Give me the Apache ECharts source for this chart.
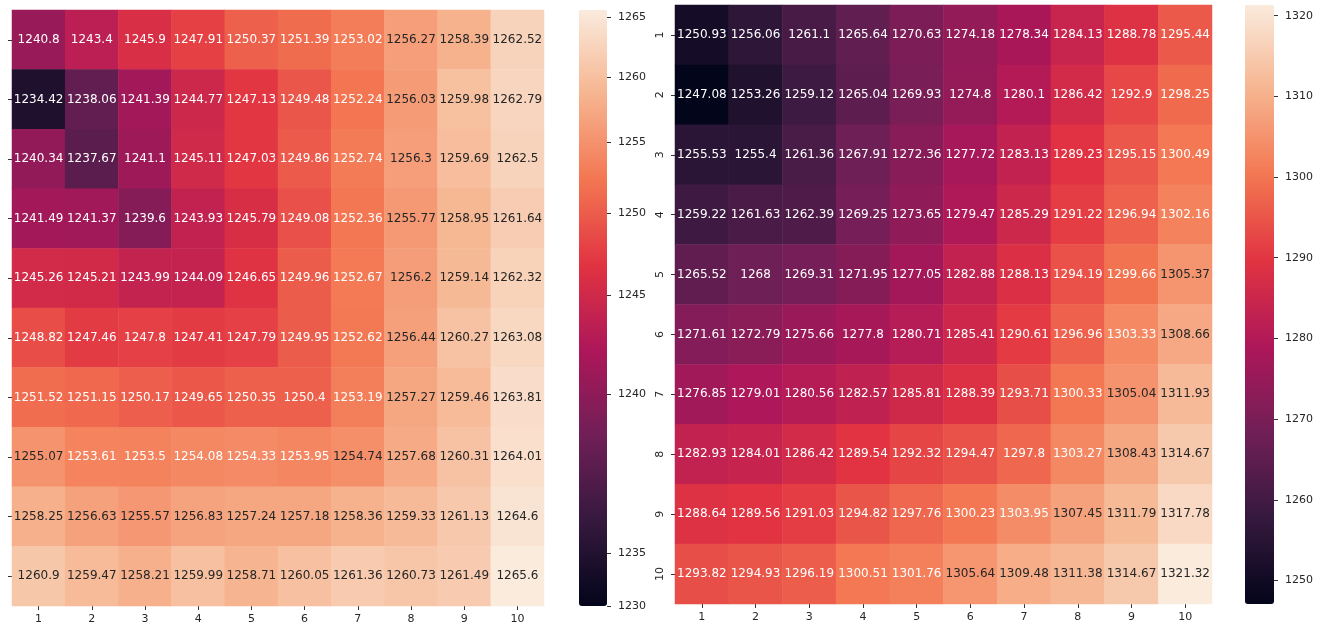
<!DOCTYPE html>
<html>
<head>
<meta charset="utf-8">
<title>Heatmaps</title>
<script src="https://cdn.jsdelivr.net/npm/echarts@6/dist/echarts.min.js"></script>
<style>
  html, body { margin: 0; padding: 0; background: #ffffff; }
  #chart { width: 1325px; height: 628px; }
</style>
</head>
<body>
<div id="chart"></div>
<script>
// Axis categories (rows top to bottom, columns left to right)
const rowLabels = ['1', '2', '3', '4', '5', '6', '7', '8', '9', '10'];
const colLabels = ['1', '2', '3', '4', '5', '6', '7', '8', '9', '10'];

// Left grid of values, one array per row
const leftValues = [
  [1240.8, 1243.4, 1245.9, 1247.91, 1250.37, 1251.39, 1253.02, 1256.27, 1258.39, 1262.52],
  [1234.42, 1238.06, 1241.39, 1244.77, 1247.13, 1249.48, 1252.24, 1256.03, 1259.98, 1262.79],
  [1240.34, 1237.67, 1241.1, 1245.11, 1247.03, 1249.86, 1252.74, 1256.3, 1259.69, 1262.5],
  [1241.49, 1241.37, 1239.6, 1243.93, 1245.79, 1249.08, 1252.36, 1255.77, 1258.95, 1261.64],
  [1245.26, 1245.21, 1243.99, 1244.09, 1246.65, 1249.96, 1252.67, 1256.2, 1259.14, 1262.32],
  [1248.82, 1247.46, 1247.8, 1247.41, 1247.79, 1249.95, 1252.62, 1256.44, 1260.27, 1263.08],
  [1251.52, 1251.15, 1250.17, 1249.65, 1250.35, 1250.4, 1253.19, 1257.27, 1259.46, 1263.81],
  [1255.07, 1253.61, 1253.5, 1254.08, 1254.33, 1253.95, 1254.74, 1257.68, 1260.31, 1264.01],
  [1258.25, 1256.63, 1255.57, 1256.83, 1257.24, 1257.18, 1258.36, 1259.33, 1261.13, 1264.6],
  [1260.9, 1259.47, 1258.21, 1259.99, 1258.71, 1260.05, 1261.36, 1260.73, 1261.49, 1265.6]
];

// Right grid of values, one array per row
const rightValues = [
  [1250.93, 1256.06, 1261.1, 1265.64, 1270.63, 1274.18, 1278.34, 1284.13, 1288.78, 1295.44],
  [1247.08, 1253.26, 1259.12, 1265.04, 1269.93, 1274.8, 1280.1, 1286.42, 1292.9, 1298.25],
  [1255.53, 1255.4, 1261.36, 1267.91, 1272.36, 1277.72, 1283.13, 1289.23, 1295.15, 1300.49],
  [1259.22, 1261.63, 1262.39, 1269.25, 1273.65, 1279.47, 1285.29, 1291.22, 1296.94, 1302.16],
  [1265.52, 1268, 1269.31, 1271.95, 1277.05, 1282.88, 1288.13, 1294.19, 1299.66, 1305.37],
  [1271.61, 1272.79, 1275.66, 1277.8, 1280.71, 1285.41, 1290.61, 1296.96, 1303.33, 1308.66],
  [1276.85, 1279.01, 1280.56, 1282.57, 1285.81, 1288.39, 1293.71, 1300.33, 1305.04, 1311.93],
  [1282.93, 1284.01, 1286.42, 1289.54, 1292.32, 1294.47, 1297.8, 1303.27, 1308.43, 1314.67],
  [1288.64, 1289.56, 1291.03, 1294.82, 1297.76, 1300.23, 1303.95, 1307.45, 1311.79, 1317.78],
  [1293.82, 1294.93, 1296.19, 1300.51, 1301.76, 1305.64, 1309.48, 1311.38, 1314.67, 1321.32]
];

// Colour bar tick labels
const leftBarTicks = [1230, 1235, 1240, 1245, 1250, 1255, 1260, 1265];
const rightBarTicks = [1250, 1260, 1270, 1280, 1290, 1300, 1310, 1320];

// ---- colour scale -------------------------------------------------------
// "rocket" colormap, evenly spaced stops from dark to light
const ROCKET = ['#03051a', '#35193e', '#701f57', '#ad1759', '#e13342', '#f37651', '#f6b48f', '#faebdd'];
// normalised level above which annotations switch to dark text
const DARK_TEXT_FROM = 0.7665;
const TEXT_DARK = '#262626';
const TEXT_FONT = 'DejaVu Sans, Liberation Sans, sans-serif';

const flat = a => a.reduce((acc, r) => acc.concat(r), []);
const leftMax = Math.max(...flat(leftValues));
const rightMin = Math.min(...flat(rightValues));
const rightMax = Math.max(...flat(rightValues));

// piecewise-linear normalisation: value -> position along the colour bar (0..1)
function makeNorm(vals, pos) {
  const fwd = v => {
    if (v <= vals[0]) return pos[0];
    for (let i = 1; i < vals.length; i++) {
      if (v <= vals[i]) {
        return pos[i - 1] + (v - vals[i - 1]) / (vals[i] - vals[i - 1]) * (pos[i] - pos[i - 1]);
      }
    }
    return pos[pos.length - 1];
  };
  const inv = p => {
    if (p <= pos[0]) return vals[0];
    for (let i = 1; i < pos.length; i++) {
      if (p <= pos[i]) {
        return vals[i - 1] + (p - pos[i - 1]) / (pos[i] - pos[i - 1]) * (vals[i] - vals[i - 1]);
      }
    }
    return vals[vals.length - 1];
  };
  return { fwd, inv };
}

// left bar uses a compressed (non-uniform) scale, right bar is linear
const leftNorm = makeNorm(
  leftBarTicks.concat([leftMax]),
  [0, 0.0889, 0.3557, 0.5218, 0.6594, 0.7785, 0.8876, 0.9883, 1]
);
const rightNorm = makeNorm([rightMin, rightMax], [0, 1]);

// each cell: [column, row, value, colour-bar position]
function cells(values, norm) {
  const out = [];
  values.forEach((row, r) => {
    row.forEach((v, c) => out.push([c, r, v, norm.fwd(v)]));
  });
  return out;
}

// ---- layout -------------------------------------------------------------
const tickStyle = { show: true, length: 4, lineStyle: { color: '#333333', width: 1 } };
const tickLabel = { color: '#262626', fontSize: 11, fontFamily: TEXT_FONT };

function heatAxes(gridIndex) {
  return {
    x: {
      type: 'category', gridIndex, data: colLabels, position: 'bottom',
      axisLine: { show: false }, splitLine: { show: false }, splitArea: { show: false },
      axisTick: Object.assign({ alignWithLabel: true }, tickStyle),
      axisLabel: Object.assign({ margin: 8 }, tickLabel)
    },
    y: {
      type: 'category', gridIndex, data: rowLabels, inverse: true, position: 'left',
      axisLine: { show: false }, splitLine: { show: false }, splitArea: { show: false },
      axisTick: Object.assign({ alignWithLabel: true }, tickStyle),
      axisLabel: Object.assign({ margin: 9, rotate: 90 }, tickLabel)
    }
  };
}

function barAxes(gridIndex, ticks, norm) {
  const at = ticks.map(v => norm.fwd(v));
  return {
    x: {
      type: 'value', gridIndex, show: false, min: 0, max: 1,
      axisLine: { show: false, onZero: false }, axisTick: { show: false },
      axisLabel: { show: false }, splitLine: { show: false }
    },
    y: {
      type: 'value', gridIndex, min: 0, max: 1, position: 'right',
      axisLine: { show: false, onZero: false }, splitLine: { show: false },
      axisTick: Object.assign({ customValues: at }, tickStyle),
      axisLabel: Object.assign({
        customValues: at, margin: 11,
        formatter: p => String(Math.round(norm.inv(p)))
      }, tickLabel)
    }
  };
}

const ha = heatAxes(0), hb = heatAxes(2);
const ba = barAxes(1, leftBarTicks, leftNorm), bb = barAxes(3, rightBarTicks, rightNorm);

const grids = [
  { left: 12, top: 10, width: 532, height: 596 },
  { left: 579, top: 10, width: 28, height: 596 },
  { left: 675, top: 5, width: 537, height: 599 },
  { left: 1245, top: 5, width: 29, height: 599 }
].map(g => Object.assign({ containLabel: false, outerBoundsMode: 'none' }, g));

function heatSeries(xi, yi, values, norm) {
  return {
    type: 'heatmap', xAxisIndex: xi, yAxisIndex: yi,
    data: cells(values, norm),
    label: {
      show: true, fontSize: 12, fontFamily: TEXT_FONT,
      formatter: p => (p.value[3] > DARK_TEXT_FROM ? '{d|' : '{w|') + p.value[2] + '}',
      rich: {
        d: { color: TEXT_DARK, fontSize: 12, fontFamily: TEXT_FONT },
        w: { color: '#ffffff', fontSize: 12, fontFamily: TEXT_FONT }
      }
    },
    itemStyle: { borderWidth: 0 },
    emphasis: { disabled: true },
    silent: true
  };
}

function colourBar(seriesIndex, grid) {
  return {
    type: 'continuous', seriesIndex, dimension: 3, min: 0, max: 1,
    inRange: { color: ROCKET },
    show: true, calculable: false, hoverLink: false, realtime: false,
    orient: 'vertical', padding: 0, text: null,
    indicatorSize: 0, indicatorStyle: { opacity: 0 },
    left: grid.left, top: grid.top, itemWidth: grid.width, itemHeight: grid.height
  };
}

const chart = echarts.init(document.getElementById('chart'), null, { renderer: 'canvas' });
chart.setOption({
  animation: false,
  backgroundColor: '#ffffff',
  grid: grids,
  xAxis: [ha.x, ba.x, hb.x, bb.x],
  yAxis: [ha.y, ba.y, hb.y, bb.y],
  visualMap: [colourBar(0, grids[1]), colourBar(1, grids[3])],
  series: [
    heatSeries(0, 0, leftValues, leftNorm),
    heatSeries(2, 2, rightValues, rightNorm)
  ]
});
</script>
</body>
</html>
